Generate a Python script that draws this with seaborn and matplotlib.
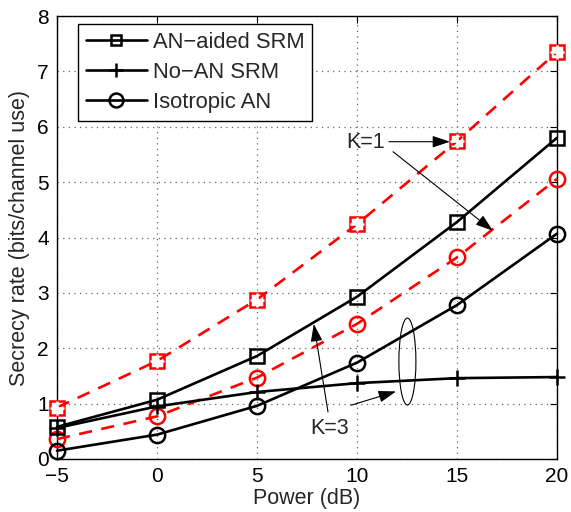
import numpy as np
import pandas as pd
import matplotlib
matplotlib.use("Agg")
import matplotlib.pyplot as plt
from matplotlib.lines import Line2D
from matplotlib.patches import Ellipse
import seaborn as sns

# ---- data ----
power_db = [-5, 0, 5, 10, 15, 20]
k1_an_aided = [0.93, 1.77, 2.88, 4.24, 5.74, 7.35]      # K=1 (No-AN coincides)
k1_isotropic = [0.36, 0.77, 1.47, 2.44, 3.64, 5.06]
k3_an_aided = [0.58, 1.07, 1.86, 2.93, 4.28, 5.80]
k3_no_an = [0.56, 0.95, 1.21, 1.37, 1.46, 1.48]
k3_isotropic = [0.15, 0.44, 0.96, 1.74, 2.78, 4.07]

legend_labels = ["AN\u2212aided SRM", "No\u2212AN SRM", "Isotropic AN"]
x_ticks = [-5, 0, 5, 10, 15, 20]
y_ticks = [0, 1, 2, 3, 4, 5, 6, 7, 8]

sns.set_theme(style="white")
plt.rcParams['font.family'] = ['Liberation Sans', 'DejaVu Sans']
plt.rcParams['axes.unicode_minus'] = True

fig = plt.figure(figsize=(5.71, 5.12), dpi=100)
ax = fig.add_axes([57/571, 1-459/512, 500/571, 443/512])

lw = 1.9
ms = 10
mew = 1.8
dash = (5, 3.6)

def draw(y, color, marker, dashed, ms_=ms):
    sns.lineplot(x=power_db, y=y, ax=ax, color=color, lw=lw, marker=marker,
                 markersize=ms_, markeredgewidth=mew, markerfacecolor='none',
                 markeredgecolor=color, dashes=False, legend=False,
                 linestyle='--' if dashed else '-', zorder=3, clip_on=False)
    if dashed:
        ax.lines[-1].set_dashes(dash)

# K=1 red dashed
draw(k1_an_aided, 'red', 's', True)
sns.lineplot(x=power_db, y=k1_an_aided, ax=ax, color='red', lw=0, marker='+',
             markersize=ms, markeredgewidth=mew, legend=False, zorder=4, clip_on=False)
draw(k1_isotropic, 'red', 'o', True, ms_=11)
# K=3 black solid
draw(k3_an_aided, 'black', 's', False)
draw(k3_no_an, 'black', '+', False, ms_=11)
draw(k3_isotropic, 'black', 'o', False, ms_=11)

ax.set_xlim(-5, 20)
ax.set_ylim(0, 8)
ax.set_xticks(x_ticks)
ax.set_yticks(y_ticks)
ax.set_xticklabels([str(t).replace('-', '\u2212') for t in x_ticks])
ax.grid(True, linestyle=(0, (1, 3.5)), color='#666666', linewidth=0.9)
ax.tick_params(direction='in', length=5, width=0.8, top=True, right=True,
               labelsize=15, colors='black', pad=6)
for s in ax.spines.values():
    s.set_color('black')
    s.set_linewidth(1.0)
ax.set_xlabel("Power (dB)", fontsize=15.5, labelpad=1)
ax.set_ylabel("Secrecy rate (bits/channel use)", fontsize=15.5, labelpad=5)

# legend
handles = [
    Line2D([], [], color='black', lw=lw, marker='s', markersize=7.5, markerfacecolor='none', markeredgewidth=mew),
    Line2D([], [], color='black', lw=lw, marker='+', markersize=10, markeredgewidth=mew),
    Line2D([], [], color='black', lw=lw, marker='o', markersize=10, markerfacecolor='none', markeredgewidth=mew),
]
leg = ax.legend(handles, legend_labels, loc='upper left', bbox_to_anchor=(21/500, 1-8/443),
                fontsize=15.8, handlelength=2.8, handletextpad=0.25, labelspacing=0.42,
                borderpad=0.35, borderaxespad=0.0, fancybox=False, framealpha=1,
                edgecolor='black')
leg.get_frame().set_linewidth(1.0)

# annotations
arrow_kw = dict(arrowstyle='-|>,head_length=0.9,head_width=0.3', color='black', lw=0.8,
                shrinkA=0, shrinkB=0)
ax.text(10.45, 5.72, "K=1", fontsize=15.5, ha='center', va='center')
ax.annotate("", xy=(14.65, 5.73), xytext=(11.6, 5.73), arrowprops=arrow_kw)
ax.annotate("", xy=(16.8, 4.12), xytext=(11.8, 5.55), arrowprops=arrow_kw)
ax.text(8.65, 0.55, "K=3", fontsize=15.5, ha='center', va='center')
ax.annotate("", xy=(7.84, 2.44), xytext=(8.55, 0.85), arrowprops=arrow_kw)
ax.annotate("", xy=(11.95, 1.22), xytext=(9.7, 0.97), arrowprops=arrow_kw)
ax.add_patch(Ellipse((12.52, 1.76), 0.85, 1.57, fill=False, edgecolor='black', lw=0.8))

fig.savefig("out.png", dpi=100)
